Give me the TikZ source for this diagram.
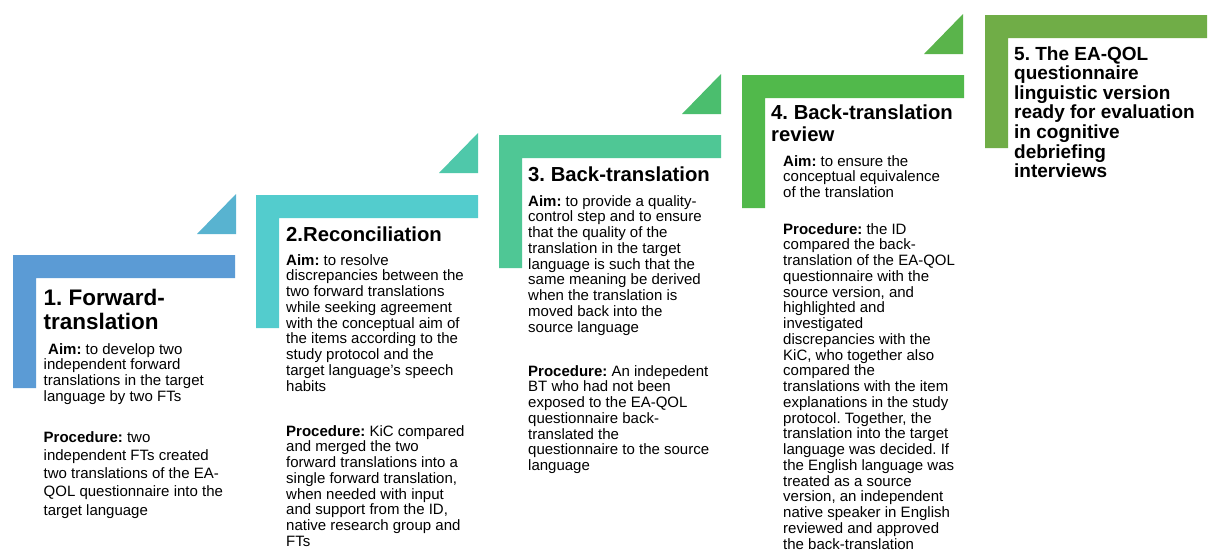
\documentclass[tikz,border=0pt]{standalone}
\usepackage{fontspec}
\setmainfont{Liberation Sans}
\frenchspacing
\definecolor{cA}{HTML}{5B9BD5}
\definecolor{tA}{HTML}{58B3D0}
\definecolor{cB}{HTML}{53CCCD}
\definecolor{tB}{HTML}{4FC8AA}
\definecolor{cC}{HTML}{4FC795}
\definecolor{tC}{HTML}{4BBE6E}
\definecolor{cD}{HTML}{51B94B}
\definecolor{tD}{HTML}{5AB44B}
\definecolor{cE}{HTML}{70AD47}
\newcommand\mlines[1]{\begin{tabular}[t]{@{}l@{}}#1\end{tabular}}
\tikzset{
  lbar/.pic={\fill[pic actions] (0,0) -- (222,0) -- (222,23) -- (23,23) -- (23,133) -- (0,133) -- cycle;},
  wedge/.pic={\fill[pic actions] (0,0) -- (39,-40) -- (39,0) -- cycle;},
  ttl/.style={anchor=base west, inner sep=0pt, font=\fontsize{20.3}{22.8}\selectfont\bfseries},
  ttlE/.style={anchor=base west, inner sep=0pt, font=\fontsize{19}{19.6}\selectfont\bfseries},
  body/.style={anchor=base west, inner sep=0pt, font=\fontsize{15}{15.75}\selectfont},
  bodywide/.style={anchor=base west, inner sep=0pt, font=\fontsize{15}{18.3}\selectfont}
}
\begin{document}
\begin{tikzpicture}[x=1pt,y=-1pt]
\useasboundingbox[fill=white] (0,0) rectangle (1213,552);
% brackets
\pic[fill=cA] at (13,255) {lbar};
\pic[fill=cB] at (256,195) {lbar};
\pic[fill=cC] at (499,135) {lbar};
\pic[fill=cD] at (742,75) {lbar};
\pic[fill=cE] at (985,15) {lbar};
% wedges
\pic[fill=tA] at (197,234) {wedge};
\pic[fill=tB] at (439,173) {wedge};
\pic[fill=tC] at (682,114) {wedge};
\pic[fill=tD] at (924,54) {wedge};
% step 1
\node[ttl, font=\fontsize{22.5}{24}\selectfont\bfseries] (t1) at (43.5,305.5) {\mlines{1. Forward-\\translation}};
\node[body] (a1) at (43.5,354) {\mlines{\hspace{4.5pt}\textbf{Aim:} to develop two\\independent forward\\translations in the target\\language by two FTs}};
\node[bodywide] (p1) at (43.5,442) {\mlines{\textbf{Procedure:} two\\independent FTs created\\two translations of the EA-\\QOL questionnaire into the\\target language}};
% step 2
\node[ttl] (t2) at (286,241) {\mlines{2.Reconciliation}};
\node[body] (a2) at (286,265) {\mlines{\textbf{Aim:} to resolve\\discrepancies between the\\two forward translations\\while seeking agreement\\with the conceptual aim of\\the items according to the\\study protocol and the\\target language’s speech\\habits}};
\node[body] (p2) at (286,436) {\mlines{\textbf{Procedure:} KiC compared\\and merged the two\\forward translations into a\\single forward translation,\\when needed with input\\and support from the ID,\\native research group and\\FTs}};
% step 3
\node[ttl] (t3) at (528,181) {\mlines{3. Back-translation}};
\node[body] (a3) at (528,206) {\mlines{\textbf{Aim:} to provide a quality-\\control step and to ensure\\that the quality of the\\translation in the target\\language is such that the\\same meaning be derived\\when the translation is\\moved back into the\\source language}};
\node[body] (p3) at (528,376) {\mlines{\textbf{Procedure:} An indepedent\\BT who had not been\\exposed to the EA-QOL\\questionnaire back-\\translated the\\questionnaire to the source\\language}};
% step 4
\node[ttl, font=\fontsize{20.3}{22}\selectfont\bfseries] (t4) at (771,119) {\mlines{4. Back-translation\\review}};
\node[body] (a4) at (783,166) {\mlines{\textbf{Aim:} to ensure the\\conceptual equivalence\\of the translation}};
\node[body] (p4) at (783,234) {\mlines{\textbf{Procedure:} the ID\\compared the back-\\translation of the EA-QOL\\questionnaire with the\\source version, and\\highlighted and\\investigated\\discrepancies with the\\KiC, who together also\\compared the\\translations with the item\\explanations in the study\\protocol. Together, the\\translation into the target\\language was decided. If\\the English language was\\treated as a source\\version, an independent\\native speaker in English\\reviewed and approved\\the back-translation}};
% step 5
\node[ttlE] (t5) at (1014,60) {\mlines{5. The EA-QOL\\questionnaire\\linguistic version\\ready for evaluation\\in cognitive\\debriefing\\interviews}};
\end{tikzpicture}
\end{document}
